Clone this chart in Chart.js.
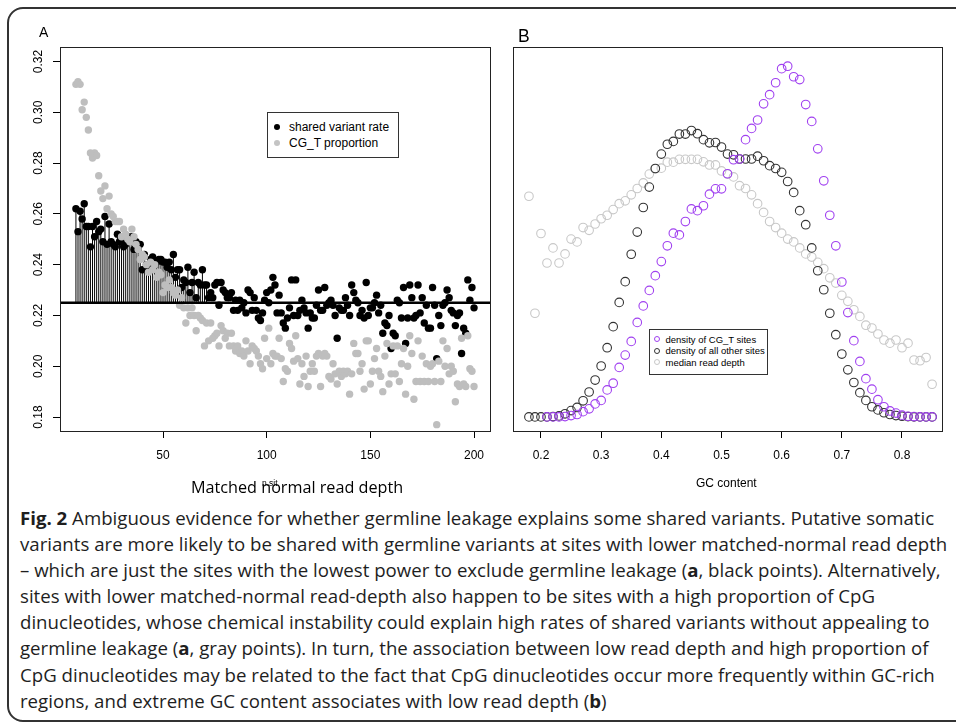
<!DOCTYPE html>
<html>
<head>
<meta charset="utf-8">
<script src="https://cdn.jsdelivr.net/npm/chart.js@4.4.1/dist/chart.umd.min.js"></script>
<style>
body{margin:0;width:956px;height:725px;overflow:hidden;background:#fff;position:relative;font-family:"Liberation Sans",Arial,sans-serif;}
#frame{position:absolute;left:7px;top:7px;width:1000px;height:711px;border:2px solid #333;border-radius:16px;}
canvas{position:absolute;top:0;}
#chartA{left:0;}
#chartB{left:500px;}
.txt{position:absolute;white-space:nowrap;color:#000;}
.box{position:absolute;border:1px solid #333;background:#fff;}
.dot{position:absolute;border-radius:50%;}
.caption{position:absolute;left:20px;top:505px;font-family:"Open Sans",sans-serif;font-size:18.65px;line-height:26.1px;color:#1e1e1e;}
.caption div{white-space:nowrap;}
</style>
</head>
<body>
<div id="frame"></div>
<canvas id="chartA" width="500" height="500"></canvas>
<canvas id="chartB" width="456" height="500"></canvas>

<div class="txt" style="left:39px;top:25px;font-size:14px;line-height:14px;">A</div>
<div class="txt" style="left:518px;top:28px;font-size:17.5px;line-height:17.5px;">B</div>

<div class="box" style="left:267px;top:112px;width:130px;height:44px;"></div>
<div class="dot" style="left:274px;top:124px;width:6px;height:6px;background:#000;"></div>
<div class="txt" style="left:289px;top:120px;font-size:12px;line-height:14px;">shared variant rate</div>
<div class="dot" style="left:274px;top:139.5px;width:6px;height:6px;background:#c4c4c4;"></div>
<div class="txt" style="left:289px;top:135.5px;font-size:12px;line-height:14px;">CG_T proportion</div>

<div class="txt" style="left:191px;top:476.5px;font-family:'Open Sans',sans-serif;font-size:16.2px;line-height:20px;">Matched normal read depth</div>
<div class="txt" style="left:262px;top:479px;font-size:8.5px;line-height:9px;">n.sit</div>
<div class="txt" style="left:696px;top:476px;font-size:12px;line-height:14px;">GC content</div>

<div class="box" style="left:649px;top:329px;width:117px;height:44px;"></div>
<div class="dot" style="left:654.3px;top:336.3px;width:4px;height:4px;border:1px solid #a040f0;"></div>
<div class="txt" style="left:665.5px;top:333.5px;font-size:9.5px;line-height:11px;">density of CG_T sites</div>
<div class="dot" style="left:654.3px;top:347.7px;width:4px;height:4px;border:1px solid #333;"></div>
<div class="txt" style="left:665.5px;top:345px;font-size:9.5px;line-height:11px;">density of all other sites</div>
<div class="dot" style="left:654.3px;top:359px;width:4px;height:4px;border:1px solid #c8c8c8;"></div>
<div class="txt" style="left:665.5px;top:356.5px;font-size:9.5px;line-height:11px;">median read depth</div>

<div class="caption">
<div><b>Fig. 2</b> Ambiguous evidence for whether germline leakage explains some shared variants. Putative somatic</div>
<div>variants are more likely to be shared with germline variants at sites with lower matched-normal read depth</div>
<div>– which are just the sites with the lowest power to exclude germline leakage (<b>a</b>, black points). Alternatively,</div>
<div>sites with lower matched-normal read-depth also happen to be sites with a high proportion of CpG</div>
<div>dinucleotides, whose chemical instability could explain high rates of shared variants without appealing to</div>
<div>germline leakage (<b>a</b>, gray points). In turn, the association between low read depth and high proportion of</div>
<div>CpG dinucleotides may be related to the fact that CpG dinucleotides occur more frequently within GC-rich</div>
<div>regions, and extreme GC content associates with low read depth (<b>b</b>)</div>
</div>

<script>
// panel A: matched normal read depth
const depth = [
    8, 9, 10, 11, 12, 13, 14, 15, 16, 17,
    18, 19, 20, 21, 22, 23, 24, 25, 26, 27,
    28, 29, 30, 31, 32, 33, 34, 35, 36, 37,
    38, 39, 40, 41, 42, 43, 44, 45, 46, 47,
    48, 49, 50, 51, 52, 53, 54, 55, 56, 57,
    58, 59, 60, 61, 62, 63, 64, 65, 66, 67,
    68, 69, 70, 71, 72, 73, 74, 75, 76, 77,
    78, 79, 80, 81, 82, 83, 84, 85, 86, 87,
    88, 89, 90, 91, 92, 93, 94, 95, 96, 97,
    98, 99, 100, 101, 102, 103, 104, 105, 106, 107,
    108, 109, 110, 111, 112, 113, 114, 115, 116, 117,
    118, 119, 120, 121, 122, 123, 124, 125, 126, 127,
    128, 129, 130, 131, 132, 133, 134, 135, 136, 137,
    138, 139, 140, 141, 142, 143, 144, 145, 146, 147,
    148, 149, 150, 151, 152, 153, 154, 155, 156, 157,
    158, 159, 160, 161, 162, 163, 164, 165, 166, 167,
    168, 169, 170, 171, 172, 173, 174, 175, 176, 177,
    178, 179, 180, 181, 182, 183, 184, 185, 186, 187,
    188, 189, 190, 191, 192, 193, 194, 195, 196, 197,
    198, 199, 200
];
const sharedRate = [
    0.262, 0.253, 0.261, 0.258, 0.264, 0.255, 0.255, 0.247, 0.255, 0.251,
    0.257, 0.253, 0.254, 0.249, 0.259, 0.248, 0.256, 0.249, 0.248, 0.247,
    0.252, 0.249, 0.249, 0.247, 0.248, 0.251, 0.250, 0.251, 0.246, 0.249,
    0.246, 0.248, 0.238, 0.244, 0.240, 0.238, 0.242, 0.243, 0.240, 0.241,
    0.242, 0.242, 0.241, 0.241, 0.239, 0.241, 0.238, 0.244, 0.235, 0.238,
    0.238, 0.231, 0.234, 0.233, 0.239, 0.229, 0.233, 0.237, 0.227, 0.233,
    0.232, 0.238, 0.232, 0.232, 0.227, 0.229, 0.227, 0.232, 0.233, 0.224,
    0.233, 0.230, 0.229, 0.227, 0.227, 0.229, 0.222, 0.226, 0.222, 0.226,
    0.223, 0.225, 0.221, 0.230, 0.229, 0.222, 0.227, 0.222, 0.219, 0.218,
    0.221, 0.226, 0.229, 0.225, 0.230, 0.235, 0.232, 0.221, 0.228, 0.221,
    0.217, 0.215, 0.219, 0.223, 0.234, 0.220, 0.234, 0.220, 0.222, 0.226,
    0.223, 0.221, 0.215, 0.221, 0.219, 0.219, 0.224, 0.230, 0.222, 0.222,
    0.231, 0.224, 0.225, 0.226, 0.224, 0.220, 0.211, 0.223, 0.222, 0.222,
    0.227, 0.224, 0.220, 0.232, 0.229, 0.226, 0.225, 0.220, 0.222, 0.219,
    0.233, 0.220, 0.223, 0.223, 0.225, 0.228, 0.221, 0.224, 0.213, 0.217,
    0.216, 0.220, 0.207, 0.213, 0.212, 0.226, 0.225, 0.219, 0.231, 0.209,
    0.219, 0.232, 0.227, 0.219, 0.220, 0.232, 0.221, 0.227, 0.217, 0.224,
    0.215, 0.215, 0.231, 0.224, 0.203, 0.220, 0.216, 0.224, 0.225, 0.230,
    0.227, 0.222, 0.221, 0.216, 0.220, 0.221, 0.205, 0.215, 0.213, 0.234,
    0.226, 0.231, 0.223
];
const cgtProportion = [
    0.311, 0.312, 0.311, 0.301, 0.304, 0.298, 0.293, 0.284, 0.282, 0.284,
    0.283, 0.275, 0.269, 0.266, 0.271, 0.262, 0.267, 0.260, 0.259, 0.257,
    0.257, 0.257, 0.251, 0.254, 0.252, 0.250, 0.249, 0.254, 0.251, 0.248,
    0.246, 0.242, 0.244, 0.243, 0.240, 0.237, 0.241, 0.238, 0.240, 0.235,
    0.237, 0.236, 0.229, 0.232, 0.231, 0.234, 0.231, 0.229, 0.228, 0.230,
    0.224, 0.227, 0.223, 0.217, 0.223, 0.220, 0.223, 0.220, 0.214, 0.220,
    0.219, 0.218, 0.208, 0.217, 0.210, 0.217, 0.211, 0.212, 0.213, 0.208,
    0.216, 0.214, 0.211, 0.213, 0.208, 0.213, 0.208, 0.206, 0.208, 0.205,
    0.206, 0.204, 0.210, 0.206, 0.201, 0.208, 0.207, 0.206, 0.204, 0.201,
    0.199, 0.211, 0.203, 0.215, 0.201, 0.205, 0.204, 0.204, 0.211, 0.203,
    0.194, 0.199, 0.198, 0.209, 0.207, 0.202, 0.212, 0.203, 0.193, 0.201,
    0.196, 0.204, 0.192, 0.198, 0.201, 0.198, 0.204, 0.205, 0.192, 0.204,
    0.205, 0.204, 0.196, 0.195, 0.201, 0.197, 0.193, 0.198, 0.196, 0.198,
    0.197, 0.198, 0.189, 0.197, 0.209, 0.205, 0.205, 0.198, 0.201, 0.191,
    0.210, 0.210, 0.193, 0.198, 0.203, 0.207, 0.198, 0.196, 0.190, 0.204,
    0.209, 0.193, 0.197, 0.208, 0.197, 0.208, 0.194, 0.201, 0.207, 0.189,
    0.200, 0.212, 0.205, 0.187, 0.194, 0.210, 0.194, 0.204, 0.194, 0.201,
    0.194, 0.200, 0.201, 0.194, 0.177, 0.202, 0.194, 0.210, 0.200, 0.207,
    0.197, 0.200, 0.198, 0.186, 0.193, 0.192, 0.211, 0.193, 0.192, 0.212,
    0.199, 0.198, 0.192
];
const baseline = 0.225;      // abline
const stripeMaxDepth = 71;   // drop lines only drawn for low depths

// panel B: GC content
const gc = [
    0.18, 0.19, 0.20, 0.21, 0.22, 0.23, 0.24, 0.25, 0.26, 0.27,
    0.28, 0.29, 0.30, 0.31, 0.32, 0.33, 0.34, 0.35, 0.36, 0.37,
    0.38, 0.39, 0.40, 0.41, 0.42, 0.43, 0.44, 0.45, 0.46, 0.47,
    0.48, 0.49, 0.50, 0.51, 0.52, 0.53, 0.54, 0.55, 0.56, 0.57,
    0.58, 0.59, 0.60, 0.61, 0.62, 0.63, 0.64, 0.65, 0.66, 0.67,
    0.68, 0.69, 0.70, 0.71, 0.72, 0.73, 0.74, 0.75, 0.76, 0.77,
    0.78, 0.79, 0.80, 0.81, 0.82, 0.83, 0.84, 0.85
];
// relative scale (0 = no density, 1 = peak of CG_T density)
const densityCGT = [
    null, null, null, 0.000, 0.000, 0.000, 0.001, 0.004, 0.007, 0.015,
    0.023, 0.037, 0.047, 0.077, 0.096, 0.141, 0.176, 0.215, 0.269, 0.316,
    0.360, 0.402, 0.442, 0.487, 0.523, 0.518, 0.556, 0.592, 0.587, 0.601,
    0.634, 0.649, 0.649, 0.692, 0.732, 0.734, 0.789, 0.821, 0.845, 0.891,
    0.917, 0.951, 0.991, 0.998, 0.968, 0.960, 0.889, 0.841, 0.763, 0.672,
    0.574, 0.487, 0.384, 0.297, 0.217, 0.158, 0.109, 0.079, 0.049, 0.029,
    0.017, 0.011, 0.005, 0.002, 0.001, 0.000, 0.000, 0.000
];
const densityOther = [
    0.000, 0.000, 0.000, 0.000, 0.001, 0.003, 0.009, 0.018, 0.027, 0.046,
    0.071, 0.105, 0.145, 0.197, 0.257, 0.326, 0.385, 0.463, 0.526, 0.596,
    0.654, 0.707, 0.748, 0.776, 0.784, 0.805, 0.805, 0.815, 0.806, 0.789,
    0.780, 0.781, 0.768, 0.748, 0.746, 0.734, 0.734, 0.734, 0.742, 0.729,
    0.715, 0.707, 0.696, 0.670, 0.639, 0.587, 0.547, 0.481, 0.416, 0.362,
    0.295, 0.234, 0.179, 0.134, 0.098, 0.069, 0.047, 0.029, 0.020, 0.012,
    0.007, 0.004, 0.002, 0.001, 0.000, 0.000, 0.000, 0.000
];
const medianDepth = [
    0.628, 0.295, 0.522, 0.438, 0.481, 0.438, 0.464, 0.506, 0.498, 0.539,
    0.531, 0.549, 0.564, 0.574, 0.590, 0.607, 0.615, 0.632, 0.650, 0.666,
    0.691, 0.706, 0.708, 0.725, 0.725, 0.733, 0.733, 0.733, 0.733, 0.726,
    0.717, 0.717, 0.700, 0.691, 0.683, 0.658, 0.650, 0.632, 0.607, 0.582,
    0.556, 0.539, 0.523, 0.506, 0.498, 0.481, 0.464, 0.455, 0.440, 0.422,
    0.396, 0.381, 0.346, 0.329, 0.305, 0.286, 0.261, 0.253, 0.236, 0.219,
    0.210, 0.219, 0.197, 0.210, 0.162, 0.160, 0.169, 0.093
];

const tickFont = {family: '"Liberation Sans", Arial, sans-serif', size: 12};

// box round the plot region, like R's bty="o"
const boxPlugin = {
    id: 'box',
    afterDraw(chart) {
        const a = chart.chartArea, c = chart.ctx;
        c.save();
        c.strokeStyle = '#222';
        c.lineWidth = 1;
        c.strokeRect(a.left + 0.5, a.top + 0.5, a.right - a.left, a.bottom - a.top);
        c.restore();
    }
};

const baselinePlugin = {
    id: 'baseline',
    afterDatasetsDraw(chart) {
        const a = chart.chartArea, c = chart.ctx;
        const py = chart.scales.y.getPixelForValue(baseline);
        c.save();
        c.strokeStyle = '#000';
        c.lineWidth = 2.5;
        c.beginPath();
        c.moveTo(a.left, py);
        c.lineTo(a.right, py);
        c.stroke();
        c.restore();
    }
};

// y tick labels parallel to the axis (R default)
const yLabelPlugin = {
    id: 'ylabels',
    afterDraw(chart) {
        const y = chart.scales.y, c = chart.ctx;
        c.save();
        c.fillStyle = '#000';
        c.font = '12px "Liberation Sans", Arial, sans-serif';
        c.textAlign = 'center';
        c.textBaseline = 'middle';
        y.ticks.forEach(t => {
            c.save();
            c.translate(38.5, y.getPixelForValue(t.value));
            c.rotate(-Math.PI / 2);
            c.fillText(t.value.toFixed(2), 0, 0);
            c.restore();
        });
        c.restore();
    }
};

const blackPts = depth.map((d, i) => ({x: d, y: sharedRate[i]}));
const grayPts = depth.map((d, i) => ({x: d, y: cgtProportion[i]}));
const stripes = depth
    .map((d, i) => ({x: d, y: [baseline, sharedRate[i]]}))
    .filter(p => p.x <= stripeMaxDepth);

const chartA = new Chart(document.getElementById('chartA'), {
    type: 'scatter',
    data: {
        datasets: [
            {data: grayPts, backgroundColor: '#bebebe', borderWidth: 0, pointRadius: 3.7, order: 1},
            {data: blackPts, backgroundColor: '#000', borderWidth: 0, pointRadius: 3.7, order: 2},
            {type: 'bar', data: stripes, backgroundColor: '#000', barThickness: 1, inflateAmount: 0, grouped: false, order: 3}
        ]
    },
    options: {
        responsive: false,
        devicePixelRatio: 1,
        animation: false,
        layout: {padding: {left: 0, right: 10, top: 47, bottom: 29}},
        plugins: {legend: {display: false}, tooltip: {enabled: false}},
        scales: {
            x: {
                type: 'linear', min: 0.32, max: 207.7, offset: false,
                ticks: {stepSize: 50, includeBounds: false, padding: 10, color: '#000', font: tickFont, maxRotation: 0,
                    callback: v => String(v)},
                grid: {drawOnChartArea: false, tickLength: 7, color: '#000', offset: false},
                border: {display: false},
                afterFit: s => { s.height = 40; }
            },
            y: {
                type: 'linear', min: 0.1745, max: 0.3257,
                ticks: {stepSize: 0.02, includeBounds: false, display: false},
                grid: {drawOnChartArea: false, tickLength: 7, color: '#000'},
                border: {display: false},
                afterFit: s => { s.width = 60; }
            }
        }
    },
    plugins: [boxPlugin, baselinePlugin, yLabelPlugin]
});

function gcPoints(values) {
    return gc.map((g, i) => ({x: g, y: values[i]})).filter(p => p.y !== null);
}

const chartB = new Chart(document.getElementById('chartB'), {
    type: 'scatter',
    data: {
        datasets: [
            {data: gcPoints(densityCGT), borderColor: '#a040f0', backgroundColor: 'rgba(0,0,0,0)', borderWidth: 1.1, pointRadius: 4.3, order: 1},
            {data: gcPoints(densityOther), borderColor: '#333', backgroundColor: 'rgba(0,0,0,0)', borderWidth: 1.1, pointRadius: 4.3, order: 2},
            {data: gcPoints(medianDepth), borderColor: '#c8c8c8', backgroundColor: 'rgba(0,0,0,0)', borderWidth: 1.1, pointRadius: 4.3, order: 3}
        ]
    },
    options: {
        responsive: false,
        devicePixelRatio: 1,
        animation: false,
        layout: {padding: {left: 13, right: 14, top: 47, bottom: 29}},
        plugins: {legend: {display: false}, tooltip: {enabled: false}},
        scales: {
            x: {
                type: 'linear', min: 0.1535, max: 0.8665,
                ticks: {stepSize: 0.1, includeBounds: false, padding: 10, color: '#000', font: tickFont, maxRotation: 0,
                    callback: v => v.toFixed(1)},
                grid: {drawOnChartArea: false, tickLength: 7, color: '#000'},
                border: {display: false},
                afterFit: s => { s.height = 40; }
            },
            y: {type: 'linear', display: false, min: -0.04, max: 1.0527}
        }
    },
    plugins: [boxPlugin]
});
</script>
</body>
</html>
